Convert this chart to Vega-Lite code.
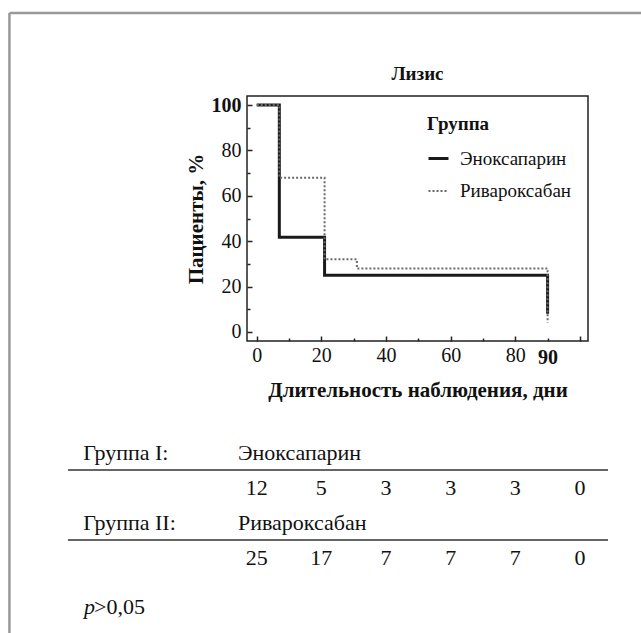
{
  "$schema": "https://vega.github.io/schema/vega-lite/v6.json",
  "autosize": {"type": "none"},
  "padding": {"left": 247, "top": 96, "right": 394, "bottom": 537},
  "background": "white",
  "config": {
    "font": "Liberation Serif",
    "view": {"stroke": null}
  },
  "bounds": "flush",
  "spacing": 112,
  "resolve": {"scale": {"x": "independent", "y": "independent"}},
  "datasets": {
    "curves": [
      {"group": "Эноксапарин", "step": 1, "day": 0, "pct": 100},
      {"group": "Эноксапарин", "step": 2, "day": 7, "pct": 41.7},
      {"group": "Эноксапарин", "step": 3, "day": 21, "pct": 25},
      {"group": "Эноксапарин", "step": 4, "day": 90, "pct": 25},
      {"group": "Эноксапарин", "step": 5, "day": 90, "pct": 8},
      {"group": "Ривароксабан", "step": 1, "day": 0, "pct": 100},
      {"group": "Ривароксабан", "step": 2, "day": 7, "pct": 68},
      {"group": "Ривароксабан", "step": 3, "day": 21, "pct": 32},
      {"group": "Ривароксабан", "step": 4, "day": 31, "pct": 28},
      {"group": "Ривароксабан", "step": 5, "day": 90, "pct": 28},
      {"group": "Ривароксабан", "step": 6, "day": 90, "pct": 4}
    ],
    "groups": [
      {"row": "g1", "label": "Группа I:", "drug": "Эноксапарин"},
      {"row": "g2", "label": "Группа II:", "drug": "Ривароксабан"}
    ],
    "atrisk": [
      {"row": "n1", "day": 0, "n": 12},
      {"row": "n1", "day": 20, "n": 5},
      {"row": "n1", "day": 40, "n": 3},
      {"row": "n1", "day": 60, "n": 3},
      {"row": "n1", "day": 80, "n": 3},
      {"row": "n1", "day": 100, "n": 0},
      {"row": "n2", "day": 0, "n": 25},
      {"row": "n2", "day": 20, "n": 17},
      {"row": "n2", "day": 40, "n": 7},
      {"row": "n2", "day": 60, "n": 7},
      {"row": "n2", "day": 80, "n": 7},
      {"row": "n2", "day": 100, "n": 0}
    ],
    "pval": [{"row": "p", "sym": "p", "rest": ">0,05"}]
  },
  "vconcat": [
    {
      "width": 341,
      "height": 245,
      "view": {"stroke": "#222", "strokeWidth": 1.5},
      "title": {"text": "Лизис", "font": "Liberation Serif", "fontSize": 19, "fontWeight": "bold", "color": "#111", "offset": 11, "frame": "group", "anchor": "middle"},
      "data": {"name": "curves"},
      "mark": {"type": "line", "interpolate": "step-after", "strokeCap": "butt"},
      "encoding": {
        "x": {
          "field": "day", "type": "quantitative",
          "scale": {"domain": [-3, 102.5], "nice": false, "zero": false},
          "title": "Длительность наблюдения, дни",
          "axis": {
            "values": [0, 10, 20, 30, 40, 50, 60, 70, 80, 90, 100],
            "domain": false, "grid": false,
            "tickSize": {"condition": {"test": "datum.value % 20 == 0", "value": -5}, "value": -3},
            "tickColor": "#222", "tickWidth": 1.5,
            "labelExpr": "(datum.value == 90 || (datum.value % 20 == 0 && datum.value < 100)) ? datum.label : ''",
            "labelFont": "Liberation Serif", "labelFontSize": 20, "labelColor": "#111",
            "labelFontWeight": {"condition": {"test": "datum.value == 90", "value": "bold"}, "value": "normal"},
            "labelPadding": 9, "labelFlush": false, "labelOverlap": false, "labelBound": false,
            "titleFont": "Liberation Serif", "titleFontSize": 21, "titleFontWeight": "bold", "titleColor": "#111", "titlePadding": 12
          }
        },
        "y": {
          "field": "pct", "type": "quantitative",
          "scale": {"domain": [-4, 104], "nice": false, "zero": false},
          "title": "Пациенты, %",
          "axis": {
            "values": [0, 10, 20, 30, 40, 50, 60, 70, 80, 90, 100],
            "domain": false, "grid": false,
            "tickSize": {"condition": {"test": "datum.value % 20 == 0", "value": -5}, "value": -3},
            "tickColor": "#222", "tickWidth": 1.5,
            "labelExpr": "datum.value % 20 == 0 ? datum.label : ''",
            "labelFont": "Liberation Serif", "labelFontSize": 20, "labelColor": "#111",
            "labelFontWeight": {"condition": {"test": "datum.value == 100", "value": "bold"}, "value": "normal"},
            "labelPadding": 11, "labelFlush": false, "labelOverlap": false,
            "titleFont": "Liberation Serif", "titleFontSize": 21, "titleFontWeight": "bold", "titleColor": "#111", "titlePadding": 5
          }
        },
        "order": {"field": "step", "type": "quantitative"},
        "color": {
          "field": "group", "type": "nominal", "title": "Группа",
          "scale": {"domain": ["Эноксапарин", "Ривароксабан"], "range": ["#1a1a1a", "#6a6a6a"]},
          "legend": {
            "orient": "none", "legendX": 180, "legendY": 19,
            "titleFont": "Liberation Serif", "titleFontSize": 19, "titleFontWeight": "bold", "titleColor": "#111", "titlePadding": 13,
            "labelFont": "Liberation Serif", "labelFontSize": 19, "labelColor": "#111", "labelOffset": 10,
            "symbolType": "stroke", "symbolSize": 400,
            "rowPadding": 11, "padding": 0
          }
        },
        "strokeDash": {
          "field": "group", "type": "nominal", "title": "Группа",
          "scale": {"domain": ["Эноксапарин", "Ривароксабан"], "range": [[1, 0], [2, 2]]}
        },
        "strokeWidth": {
          "field": "group", "type": "nominal", "title": "Группа",
          "scale": {"domain": ["Эноксапарин", "Ривароксабан"], "range": [3, 2]}
        }
      }
    },
    {
      "width": 341,
      "height": 140,
      "view": {"stroke": null},
      "resolve": {"scale": {"y": "independent"}},
      "layer": [
        {
          "layer": [
            {
              "data": {"name": "groups"},
              "mark": {"type": "text", "font": "Liberation Serif", "align": "left", "baseline": "middle", "fontSize": 22, "color": "#111"},
              "encoding": {
                "x": {"datum": -53.7, "type": "quantitative", "scale": {"domain": [-3, 102.5], "nice": false, "zero": false}, "axis": null},
                "y": {"field": "row", "type": "ordinal", "scale": {"type": "point", "domain": ["g1", "n1", "g2", "n2", "p"], "padding": 0}, "axis": null},
                "text": {"field": "label"}
              }
            },
            {
              "data": {"name": "groups"},
              "mark": {"type": "text", "font": "Liberation Serif", "align": "left", "baseline": "middle", "fontSize": 22, "color": "#111"},
              "encoding": {
                "x": {"datum": -5.8, "type": "quantitative", "axis": null},
                "y": {"field": "row", "type": "ordinal", "axis": null},
                "text": {"field": "drug"}
              }
            },
            {
              "data": {"name": "groups"},
              "mark": {"type": "rule", "color": "#333", "strokeWidth": 1.5, "yOffset": 17},
              "encoding": {
                "x": {"datum": -58.4, "type": "quantitative", "axis": null},
                "x2": {"datum": 108.7},
                "y": {"field": "row", "type": "ordinal", "axis": null}
              }
            },
            {
              "data": {"name": "atrisk"},
              "mark": {"type": "text", "font": "Liberation Serif", "align": "center", "baseline": "middle", "fontSize": 22, "color": "#111"},
              "encoding": {
                "x": {"field": "day", "type": "quantitative", "axis": null},
                "y": {"field": "row", "type": "ordinal", "axis": null},
                "text": {"field": "n", "type": "quantitative"}
              }
            },
            {
              "data": {"name": "pval"},
              "mark": {"type": "text", "font": "Liberation Serif", "align": "left", "baseline": "middle", "fontSize": 22, "fontStyle": "italic", "color": "#111", "yOffset": 14},
              "encoding": {
                "x": {"datum": -53.4, "type": "quantitative", "axis": null},
                "y": {"field": "row", "type": "ordinal", "axis": null},
                "text": {"field": "sym"}
              }
            },
            {
              "data": {"name": "pval"},
              "mark": {"type": "text", "font": "Liberation Serif", "align": "left", "baseline": "middle", "fontSize": 22, "color": "#111", "yOffset": 14, "dx": 10},
              "encoding": {
                "x": {"datum": -53.4, "type": "quantitative", "axis": null},
                "y": {"field": "row", "type": "ordinal", "axis": null},
                "text": {"field": "rest"}
              }
            }
          ]
        },
        {
          "data": {"values": [{}]},
          "layer": [
            {
              "mark": {"type": "rule", "color": "#999999", "strokeWidth": 2.5},
              "encoding": {
                "x": {"datum": -76.5, "type": "quantitative", "axis": null},
                "y": {"datum": 414.3, "type": "quantitative", "scale": {"domain": [0, 100], "nice": false, "zero": false}, "axis": null},
                "y2": {"datum": -40}
              }
            },
            {
              "mark": {"type": "rule", "color": "#999999", "strokeWidth": 2.5},
              "encoding": {
                "x": {"datum": -76.5, "type": "quantitative", "axis": null},
                "x2": {"datum": 125},
                "y": {"datum": 414.3, "type": "quantitative", "axis": null}
              }
            }
          ]
        }
      ]
    }
  ]
}
